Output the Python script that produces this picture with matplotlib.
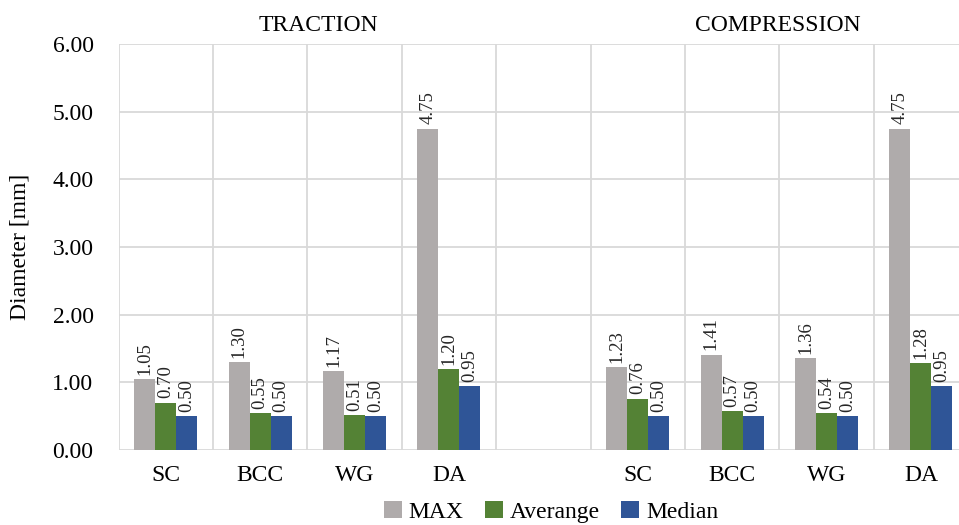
import numpy as np
import matplotlib
matplotlib.use("Agg")
import matplotlib.pyplot as plt

# Pore diameters per lattice type, traction then compression
categories = ["SC", "BCC", "WG", "DA", "", "SC", "BCC", "WG", "DA"]
max_vals = [1.05, 1.30, 1.17, 4.75, np.nan, 1.23, 1.41, 1.36, 4.75]
avg_vals = [0.70, 0.55, 0.51, 1.20, np.nan, 0.76, 0.57, 0.54, 1.28]
median_vals = [0.50, 0.50, 0.50, 0.95, np.nan, 0.50, 0.50, 0.50, 0.95]
series_names = ["MAX", "Averange", "Median"]
colors = ["#AFABAB", "#548235", "#2F5597"]

plt.rcParams['font.family'] = ['Liberation Serif', 'DejaVu Serif']

fig = plt.figure(figsize=(9.59, 5.25), dpi=100)
ax = fig.add_axes([118.5 / 959, 75 / 525, 849.6 / 959, 406 / 525])

x = np.arange(len(categories))
w = 0.2222
for i, (vals, name, c) in enumerate(zip([max_vals, avg_vals, median_vals], series_names, colors)):
    pos = x + (i - 1) * w
    ax.bar(pos, vals, width=w, color=c, label=name, zorder=3)
    for px, v in zip(pos, vals):
        if np.isnan(v):
            continue
        ax.annotate(f"{v:.2f}", (px, v), xytext=(0, 3), textcoords="offset points",
                    rotation=90, ha="center", va="bottom", fontsize=13.5, color="#262626")

ax.set_xlim(-0.5, len(categories) - 0.5)
ax.set_ylim(0, 6)
ax.set_yticks(np.arange(0, 6.01, 1))
ax.set_yticklabels([f"{t:.2f}" for t in np.arange(0, 6.01, 1)], fontsize=17)
ax.set_xticks(x)
ax.set_xticklabels(categories, fontsize=17)
ax.set_xticks(np.arange(-0.5, len(categories), 1), minor=True)
ax.tick_params(axis="both", which="both", length=0)
ax.tick_params(axis="x", pad=11)
ax.tick_params(axis="y", pad=18)
ax.grid(axis="y", which="major", color="#D9D9D9", linewidth=1.3, zorder=0)
ax.grid(axis="x", which="minor", color="#D9D9D9", linewidth=1.3, zorder=0)
for s in ax.spines.values():
    s.set_visible(False)

ax.set_ylabel("Diameter [mm]", fontsize=17, labelpad=16)

ax.text(1.62, 6.12, "TRACTION", ha="center", va="bottom", fontsize=17)
ax.text(6.48, 6.12, "COMPRESSION", ha="center", va="bottom", fontsize=17)

fig.legend(loc="center", bbox_to_anchor=(551 / 959, 1 - 512 / 525), ncol=3, frameon=False,
           fontsize=17, handlelength=0.75, handleheight=0.75, handletextpad=0.3, columnspacing=0.9)

fig.savefig("out.png", dpi=100)
